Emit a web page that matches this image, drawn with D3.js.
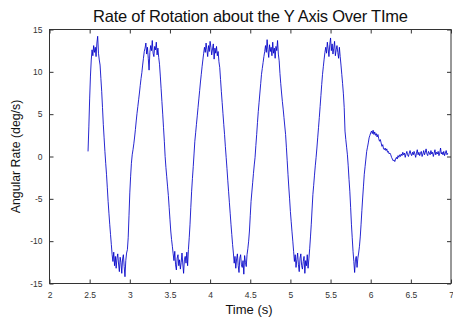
<!DOCTYPE html>
<html>
<head>
<meta charset="utf-8">
<script src="https://cdn.jsdelivr.net/npm/d3@7"></script>
<style>
  html, body { margin: 0; padding: 0; background: #ffffff; }
  svg { display: block; font-family: "Liberation Sans", Arial, Helvetica, sans-serif; }
</style>
</head>
<body>
<svg id="chart" width="453" height="323"></svg>
<script>
// ---- data ----
const titleText = "Rate of Rotation about the Y Axis Over TIme";
const xLabel = "Time (s)";
const yLabel = "Angular Rate (deg/s)";
const xTicks = [2, 2.5, 3, 3.5, 4, 4.5, 5, 5.5, 6, 6.5, 7];
const xTickLabels = ["2", "2.5", "3", "3.5", "4", "4.5", "5", "5.5", "6", "6.5", "7"];
const yTicks = [-15, -10, -5, 0, 5, 10, 15];
const yTickLabels = ["-15", "-10", "-5", "0", "5", "10", "15"];
const sampleStart = 2.48;   // s
const sampleStep = 0.01;    // s
const rate = [
  // 2.48 - 2.63
  0.6, 3.5, 6.8, 9.5, 11.4, 12.6, 11.9, 13.1, 12.3, 12.9, 11.8, 13.4, 14.2, 12.2, 11.4, 10.8,
  // 2.64 - 2.77
  9.2, 7.7, 5.8, 3.8, 2.2, 0.6, -0.8, -2.1, -3.7, -5.3, -6.7, -8.0, -9.2, -10.4,
  // 2.78 - 2.96
  -11.6, -12.4, -11.3, -12.9, -11.8, -13.2, -12.0, -11.5, -12.7, -13.6, -11.9, -12.5, -13.8, -12.1, -11.6, -13.0, -14.2, -12.3, -11.4,
  // 2.97 - 3.18
  -11.0, -9.6, -7.0, -4.3, -2.4, -0.8, 0.2, 0.8, 1.5, 2.3, 3.2, 4.2, 5.1, 5.9, 6.7, 7.5, 8.4, 9.2, 9.9, 10.8, 11.6, 12.4,
  // 3.19 - 3.37
  12.8, 13.4, 12.1, 12.9, 11.6, 10.2, 12.3, 13.1, 12.5, 13.7, 12.2, 11.8, 13.0, 12.6, 13.5, 12.0, 12.8, 11.7, 10.9,
  // 3.38 - 3.53
  9.5, 8.0, 6.5, 5.0, 3.4, 1.8, 0.0, -1.3, -2.4, -3.5, -4.6, -6.0, -7.4, -8.8, -9.8, -10.6,
  // 3.54 - 3.73
  -11.5, -12.3, -11.2, -12.8, -13.4, -12.0, -11.6, -12.9, -12.2, -13.3, -12.5, -11.4, -12.7, -13.8, -12.2, -11.8, -12.6, -11.3, -12.9, -11.0,
  // 3.74 - 3.92
  -9.6, -8.0, -6.0, -4.1, -2.6, -1.2, 0.3, 1.8, 2.8, 3.8, 4.8, 5.8, 6.8, 7.8, 8.8, 9.7, 10.6, 11.4, 12.2,
  // 3.93 - 4.11
  12.9, 12.3, 13.4, 12.6, 11.8, 13.1, 12.4, 13.6, 12.9, 12.0, 12.7, 13.3, 11.5, 12.8, 12.2, 13.0, 11.9, 12.4, 11.2,
  // 4.12 - 4.28
  10.5, 9.1, 7.7, 6.4, 5.1, 3.8, 2.6, 1.2, -0.1, -1.4, -2.8, -4.1, -5.4, -6.7, -8.0, -9.2, -10.4,
  // 4.29 - 4.47
  -11.4, -12.6, -11.8, -13.2, -12.1, -11.5, -12.9, -13.7, -12.0, -11.6, -12.8, -13.1, -12.3, -13.9, -11.7, -12.5, -13.0, -11.6, -10.9,
  // 4.48 - 4.68
  -10.0, -8.8, -7.0, -5.3, -4.2, -3.1, -2.0, -1.0, -0.1, 1.3, 2.6, 4.0, 5.3, 6.4, 7.5, 8.6, 9.7, 10.4, 11.1, 11.8, 12.4,
  // 4.69 - 4.86
  13.1, 12.3, 13.8, 12.6, 11.7, 13.2, 12.4, 12.9, 11.9, 13.5, 12.2, 12.8, 11.6, 13.0, 12.5, 13.7, 12.1, 11.3,
  // 4.87 - 5.03
  9.8, 8.6, 7.5, 6.5, 5.6, 4.6, 3.6, 2.6, 1.1, -0.5, -2.1, -3.6, -5.0, -6.5, -7.7, -8.9, -10.0,
  // 5.04 - 5.24
  -11.2, -12.4, -11.6, -13.1, -12.2, -11.4, -12.8, -13.6, -12.0, -11.5, -12.9, -13.3, -12.4, -11.8, -13.8, -12.3, -12.9, -11.6, -13.2, -12.1, -10.9,
  // 5.25 - 5.43
  -9.5, -8.0, -6.2, -4.5, -3.4, -2.2, -1.1, -0.1, 1.0, 2.2, 3.4, 4.6, 5.9, 7.2, 8.5, 9.7, 10.6, 11.5, 12.3,
  // 5.44 - 5.63
  12.9, 12.2, 13.5, 12.7, 11.8, 13.2, 14.0, 12.5, 13.3, 12.1, 12.8, 13.6, 11.9, 12.6, 13.1, 12.3, 11.6, 12.9, 11.8, 10.8,
  // 5.64 - 5.78
  9.7, 8.6, 7.4, 5.8, 3.0, 2.0, 1.1, 0.2, -1.1, -2.7, -4.1, -6.0, -8.0, -9.6, -11.2,
  // 5.79 - 5.86
  -12.4, -13.7, -12.2, -11.8, -13.1, -12.0, -11.4, -10.6,
  // 5.87 - 6.38
  -9.5, -8.0, -6.4, -4.9, -3.5, -2.1, -1.2, -0.3, 0.6, 1.1,
  1.6, 2.2, 2.5, 2.8, 3.0, 2.7, 3.1, 2.6, 2.9, 2.5,
  2.7, 2.3, 2.6, 2.1, 1.8, 2.0, 1.6, 1.2, 1.4, 0.9,
  0.8, 1.0, 0.7, 0.9, 0.5, 0.6, 0.3, 0.4, 0.2, -0.1,
  -0.3, -0.5, -0.4, -0.6, -0.3, -0.1, -0.3, 0.1, -0.1, 0.2,
  0.0, 0.3,
  // 6.39 - 6.96
  0.1, 0.5, 0.2, 0.4, -0.1, 0.3, 0.6, 0.2, 0.0, 0.4,
  0.7, 0.3, 0.1, 0.5, 0.2, 0.6, 0.3, -0.1, 0.4, 0.8,
  0.2, 0.5, 0.1, 0.4, 0.6, 0.0, 0.3, 0.7, 0.2, 0.5,
  0.9, 0.3, 0.1, 0.6, 0.4, 0.2, 0.7, 0.3, 0.5, 0.0,
  0.4, 0.8, 0.2, 0.5, 0.3, 0.6, 0.1, 0.4, 1.0, 0.3,
  0.5, 0.2, 0.6, 0.1, 0.4, 0.7, 0.2, 0.4
];

// ---- layout ----
const plot = { left: 49.5, right: 451, top: 29.5, bottom: 283.5 };
const svg = d3.select("#chart");

const x = d3.scaleLinear().domain([2, 7]).range([plot.left, plot.right]);
const y = d3.scaleLinear().domain([-15, 15]).range([plot.bottom, plot.top]);

const points = rate.map((v, i) => [sampleStart + i * sampleStep, v]);

// data line
svg.append("path")
  .datum(points)
  .attr("fill", "none")
  .attr("stroke", "#0000c8")
  .attr("stroke-width", 0.85)
  .attr("stroke-linejoin", "round")
  .attr("d", d3.line().x(d => x(d[0])).y(d => y(d[1])));

// axes (ticks inward, box style)
const axisColor = "#333333";
const tickLen = 4;
function styleAxis(g) {
  g.select(".domain").remove();
  g.selectAll(".tick line").attr("stroke", axisColor).attr("stroke-width", 1);
  g.selectAll(".tick text").attr("fill", "#333333").attr("font-size", "8.5px")
    .attr("font-family", "Liberation Sans, Arial, sans-serif");
}

svg.append("g")
  .attr("transform", `translate(0,${plot.bottom})`)
  .call(d3.axisBottom(x).tickValues(xTicks).tickFormat((d, i) => xTickLabels[i])
    .tickSizeInner(-tickLen).tickSizeOuter(0).tickPadding(8))
  .call(styleAxis);

svg.append("g")
  .attr("transform", `translate(0,${plot.top})`)
  .call(d3.axisTop(x).tickValues(xTicks).tickFormat("").tickSizeInner(-tickLen).tickSizeOuter(0))
  .call(styleAxis);

svg.append("g")
  .attr("transform", `translate(${plot.left},0)`)
  .call(d3.axisLeft(y).tickValues(yTicks).tickFormat((d, i) => yTickLabels[i])
    .tickSizeInner(-tickLen).tickSizeOuter(0).tickPadding(7))
  .call(styleAxis);

svg.append("g")
  .attr("transform", `translate(${plot.right},0)`)
  .call(d3.axisRight(y).tickValues(yTicks).tickFormat("").tickSizeInner(-tickLen).tickSizeOuter(0))
  .call(styleAxis);

// box
svg.append("rect")
  .attr("x", plot.left).attr("y", plot.top)
  .attr("width", plot.right - plot.left).attr("height", plot.bottom - plot.top)
  .attr("fill", "none").attr("stroke", axisColor).attr("stroke-width", 1);

// title & labels
svg.append("text")
  .attr("x", 250.5).attr("y", 21.5)
  .attr("text-anchor", "middle")
  .attr("font-size", "16.5px")
  .attr("fill", "#111")
  .attr("textLength", 315)
  .attr("lengthAdjust", "spacing")
  .text(titleText);

svg.append("text")
  .attr("x", 249).attr("y", 314)
  .attr("text-anchor", "middle")
  .attr("font-size", "13px")
  .attr("fill", "#111")
  .text(xLabel);

svg.append("text")
  .attr("transform", `translate(19.5,156.5) rotate(-90)`)
  .attr("text-anchor", "middle")
  .attr("font-size", "12.3px")
  .attr("fill", "#111")
  .text(yLabel);
</script>
</body>
</html>
